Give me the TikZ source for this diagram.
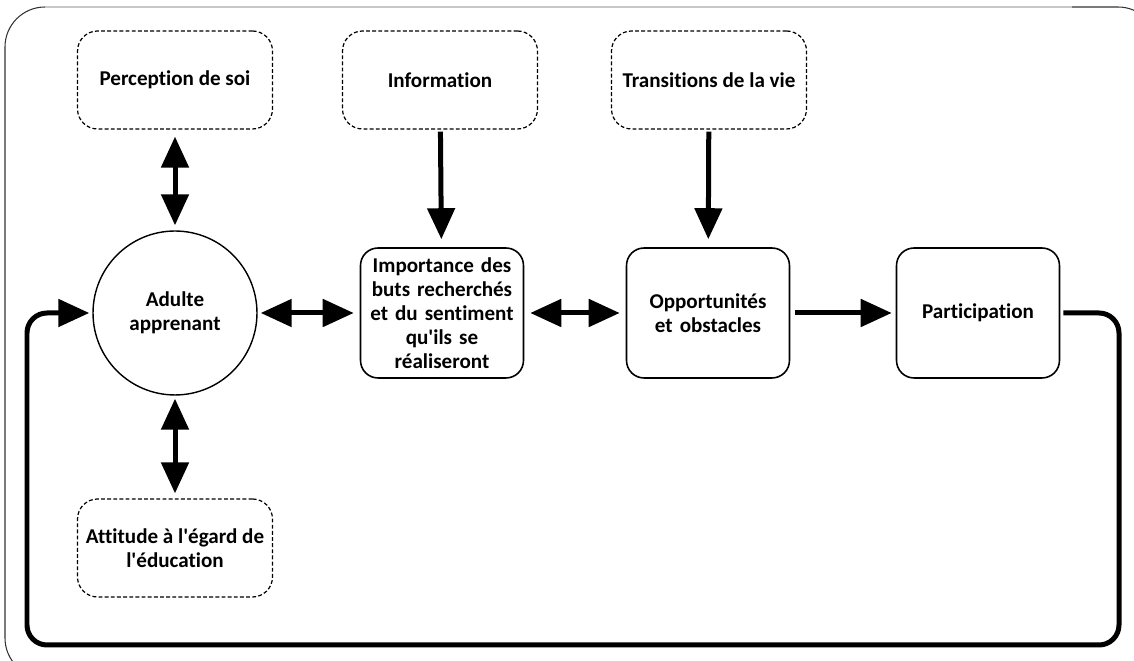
\documentclass[tikz,border=0pt]{standalone}
\usepackage{fontspec}
\newfontfamily\calfont{Carlito}[Ligatures={NoCommon,TeXOff}]
\usetikzlibrary{arrows.meta}
\begin{document}
\begin{tikzpicture}[x=0.02cm,y=-0.02cm,
  lbl/.style={align=center, font=\calfont\bfseries\fontsize{12}{13.6}\selectfont},
  dashbox/.style={lbl, draw, line width=0.7pt, dash pattern=on 2.2pt off 1.3pt, rounded corners=0.4cm,
    minimum width=3.9cm, minimum height=1.96cm, inner sep=2pt},
  solidbox/.style={lbl, draw, line width=0.9pt, rounded corners=0.35cm,
    minimum width=3.26cm, minimum height=2.6cm, text width=3.2cm, inner sep=0pt},
  circ/.style={lbl, draw, circle, line width=0.8pt, minimum size=3.28cm, inner sep=0pt},
  arr/.style={line width=0.1cm, -{Triangle[length=0.62cm,width=0.54cm]}},
  darr/.style={line width=0.1cm, {Triangle[length=0.62cm,width=0.54cm]}-{Triangle[length=0.62cm,width=0.54cm]}},
  frame/.style={draw=black!80, line width=0.6pt}
]
\useasboundingbox (0,0) rectangle (1134,661);
\clip (0,0) rectangle (1134,661);

% outer frame
\draw[frame, rounded corners=0.8cm] (5,7) rectangle (1158,678);
\draw[draw=black!22, line width=0.9pt] (45,7) -- (1072,7);

% nodes
\node[dashbox] (perc) at (175,80) {Perception de soi};
\node[dashbox] (info) at (440,80) {Information};
\node[dashbox] (trans) at (709,80) {Transitions de la vie};
\node[circ] (adult) at (175,313) {Adulte\\apprenant};
\node[solidbox] (imp) at (442,313) {Importance des\\buts recherchés\\et du sentiment\\qu'ils se\\réaliseront};
\node[solidbox] (opp) at (708,313) {Opportunités\\et obstacles};
\node[solidbox] (part) at (978,313) {Participation};
\node[dashbox] (att) at (175,548) {Attitude à l'égard de\\l'éducation};

% connectors
\draw[darr, shorten <=0.14cm, shorten >=0.1cm] (perc) -- (adult);
\draw[arr, shorten <=0.04cm, shorten >=0.16cm] (info) -- (imp);
\draw[arr, shorten <=0.04cm, shorten >=0.16cm] (trans) -- (opp);
\draw[darr, shorten <=0.06cm, shorten >=0.12cm] (adult) -- (imp);
\draw[darr, shorten <=0.12cm, shorten >=0.12cm] (imp) -- (opp);
\draw[arr, shorten <=0.1cm, shorten >=0.08cm] (opp) -- (part);
\draw[darr, shorten <=0.06cm, shorten >=0.1cm] (adult) -- (att);

\coordinate (br) at (1119,645);
\coordinate (bl) at (27,645);
\draw[arr, rounded corners=0.4cm, shorten <=0.06cm, shorten >=0.06cm]
  (part.east) -| (br) -- (bl) |- (adult.west);
\end{tikzpicture}
\end{document}
